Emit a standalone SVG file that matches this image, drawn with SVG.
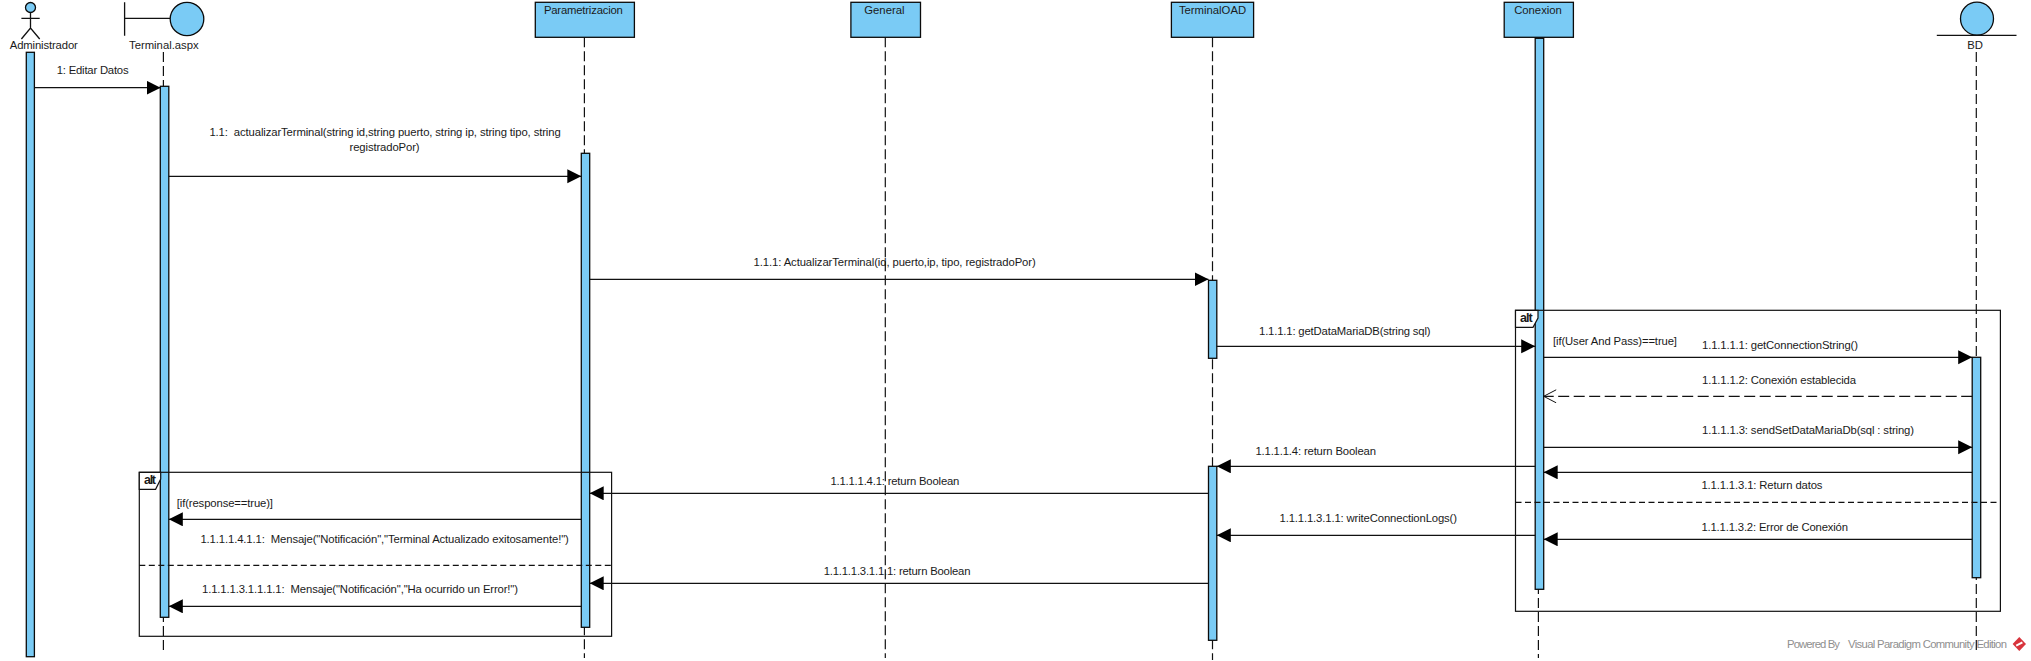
<svg xmlns="http://www.w3.org/2000/svg" width="2031" height="661" viewBox="0 0 2031 661">
<style>
text{font-family:"Liberation Sans",Arial,sans-serif;font-size:11.3px;fill:#1a1a1a;white-space:pre}
.shape{fill:#7acbf5;stroke:#0b0b0b;stroke-width:1.3}
.life{fill:none;stroke:#111;stroke-width:1.2;stroke-dasharray:10 4}
.msg{fill:none;stroke:#111;stroke-width:1.3}
.dash{stroke-dasharray:11 4.5}
.frame{fill:none;stroke:#111;stroke-width:1.2}
.tab{fill:#fff;stroke:#111;stroke-width:1.2}
.div{fill:none;stroke:#111;stroke-width:1.2;stroke-dasharray:6 3.5}
.alt{font-weight:bold;font-size:12.5px}
.c{text-anchor:middle}
.wm{fill:#8f8f8f}
</style>
<defs>
<marker id="fill" markerUnits="userSpaceOnUse" markerWidth="15" markerHeight="15" refX="14" refY="7" orient="auto"><path d="M0 0L14 7L0 14Z" fill="#000"/></marker>
<marker id="open" markerUnits="userSpaceOnUse" markerWidth="14" markerHeight="15" refX="13" refY="7" orient="auto"><path d="M0.5 0.5L13 7L0.5 13.5" fill="none" stroke="#111" stroke-width="1"/></marker>
</defs>
<rect width="2031" height="661" fill="#fff"/>

<g id="lifelines">
<path class="life" d="M163.4 52V654"/>
<path class="life" d="M584.4 37.3V658"/>
<path class="life" d="M885.3 37.3V658"/>
<path class="life" d="M1212.5 37.3V660"/>
<path class="life" d="M1538.4 38V658"/>
<path class="life" d="M1976.3 52V654"/>
</g>

<g id="node-administrador">
<rect class="shape" x="26.3" y="52.3" width="8.1" height="604.4"/>
<ellipse class="shape" cx="30.5" cy="7.5" rx="5" ry="5"/>
<path class="msg" d="M30.5 12.5V28M21.4 18.3H39.7M21.4 39L30.5 28L39.7 39"/>
<text x="9.8" y="48.7" textLength="68">Administrador</text>
</g>

<g id="node-terminal-aspx">
<rect class="shape" x="160.3" y="86.3" width="8.5" height="531"/>
<path class="msg" d="M124.6 2.3V35.7M124.6 18.3H170"/>
<ellipse class="shape" cx="187" cy="19" rx="16.8" ry="16.7"/>
<text x="129" y="48.7" textLength="69.7">Terminal.aspx</text>
</g>

<g id="node-parametrizacion">
<rect class="shape" x="535.3" y="2.3" width="99.1" height="35"/>
<text x="543.9" y="14" textLength="79">Parametrizacion</text>
<rect class="shape" x="581.3" y="153.3" width="8.4" height="474"/>
</g>

<g id="node-general">
<rect class="shape" x="850.9" y="2.3" width="69.6" height="35"/>
<text class="c" x="884.4" y="14">General</text>
</g>

<g id="node-terminaload">
<rect class="shape" x="1171.4" y="2.3" width="82.2" height="35"/>
<text class="c" x="1212.5" y="14">TerminalOAD</text>
<rect class="shape" x="1208.5" y="280.3" width="8.3" height="78"/>
<rect class="shape" x="1208.5" y="466.3" width="8.3" height="174"/>
</g>

<g id="node-conexion">
<rect class="shape" x="1504.2" y="2.3" width="69.2" height="35"/>
<text class="c" x="1538" y="14">Conexion</text>
<rect class="shape" x="1535.2" y="38.3" width="8.5" height="551"/>
</g>

<g id="node-bd">
<ellipse class="shape" cx="1977" cy="18.7" rx="16.5" ry="16.5"/>
<path class="msg" d="M1936.8 35.3H2016.5"/>
<text class="c" x="1975" y="48.7">BD</text>
<rect class="shape" x="1972.2" y="357.3" width="8.5" height="220.4"/>
</g>

<g id="alt-left">
<rect class="frame" x="139.3" y="472.3" width="472.3" height="164"/>
<path class="tab" d="M139.3 472.3H160.7V479L155.6 489.3H139.3Z"/>
<text class="alt" x="144" y="484" textLength="12">alt</text>
<path class="div" d="M139.3 565.3H611.6"/>
<text x="176.8" y="506.7" textLength="96.2">[if(response==true)]</text>
</g>

<g id="alt-right">
<rect class="frame" x="1515.5" y="310.3" width="484.9" height="301"/>
<path class="tab" d="M1515.5 310.3H1538V318L1533 327.3H1515.5Z"/>
<text class="alt" x="1520" y="322" textLength="12.6">alt</text>
<path class="div" d="M1515.5 502.3H2000.4"/>
<text x="1553" y="345" textLength="124">[if(User And Pass)==true]</text>
</g>

<g id="connectors">
<path class="msg" marker-end="url(#fill)" d="M34.4 87.7H160.6"/>
<path class="msg" marker-end="url(#fill)" d="M168.8 176.3H581.3"/>
<path class="msg" marker-end="url(#fill)" d="M589.7 279.3H1208.5"/>
<path class="msg" marker-end="url(#fill)" d="M1216.8 346.3H1535.2"/>
<path class="msg" marker-end="url(#fill)" d="M1543.7 357.3H1972.2"/>
<path class="msg dash" marker-end="url(#open)" d="M1972.2 396.3H1543.7"/>
<path class="msg" marker-end="url(#fill)" d="M1543.7 447.3H1972.2"/>
<path class="msg" marker-end="url(#fill)" d="M1535.2 466.3H1216.8"/>
<path class="msg" marker-end="url(#fill)" d="M1972.2 472.3H1543.7"/>
<path class="msg" marker-end="url(#fill)" d="M1208.5 493.3H589.7"/>
<path class="msg" marker-end="url(#fill)" d="M581.3 519.3H168.8"/>
<path class="msg" marker-end="url(#fill)" d="M1535.2 535.3H1216.8"/>
<path class="msg" marker-end="url(#fill)" d="M1972.2 539.3H1543.7"/>
<path class="msg" marker-end="url(#fill)" d="M1208.5 583.3H589.7"/>
<path class="msg" marker-end="url(#fill)" d="M581.3 606.3H168.8"/>
</g>

<g id="labels">
<text x="56.7" y="74" textLength="71.9">1: Editar Datos</text>
<text x="209.4" y="136" textLength="351.3">1.1:  actualizarTerminal(string id,string puerto, string ip, string tipo, string</text>
<text x="349.5" y="150.7" textLength="70.1">registradoPor)</text>
<text x="753.6" y="266" textLength="282.1">1.1.1: ActualizarTerminal(id, puerto,ip, tipo, registradoPor)</text>
<text x="1259" y="335" textLength="171.6">1.1.1.1: getDataMariaDB(string sql)</text>
<text x="1702" y="349" textLength="156">1.1.1.1.1: getConnectionString()</text>
<text x="1702" y="384" textLength="154">1.1.1.1.2: Conexión establecida</text>
<text x="1702" y="434" textLength="212">1.1.1.1.3: sendSetDataMariaDb(sql : string)</text>
<text x="1255.4" y="455" textLength="120.6">1.1.1.1.4: return Boolean</text>
<text x="1701.4" y="489" textLength="121.1">1.1.1.1.3.1: Return datos</text>
<text x="830.4" y="485" textLength="129">1.1.1.1.4.1: return Boolean</text>
<text x="1279.5" y="522.3" textLength="177.5">1.1.1.1.3.1.1: writeConnectionLogs()</text>
<text x="1701.4" y="531" textLength="146.6">1.1.1.1.3.2: Error de Conexión</text>
<text x="200.4" y="542.7" textLength="368.4">1.1.1.1.4.1.1:  Mensaje("Notificación","Terminal Actualizado exitosamente!")</text>
<text x="823.7" y="575" textLength="146.8">1.1.1.1.3.1.1.1: return Boolean</text>
<text x="202" y="592.7" textLength="316">1.1.1.1.3.1.1.1.1:  Mensaje("Notificación","Ha ocurrido un Error!")</text>
</g>

<g id="watermark">
<text class="wm" y="647.7"><tspan x="1787" textLength="53">Powered By</tspan><tspan x="1848" textLength="159">Visual Paradigm Community Edition</tspan></text>
<path d="M2019.3 637L2026 644L2019.3 651L2012.6 644Z" fill="#d8343c"/>
<path d="M2016.2 645.6L2022.4 642.4" fill="none" stroke="#fff" stroke-width="2"/>
</g>
</svg>
